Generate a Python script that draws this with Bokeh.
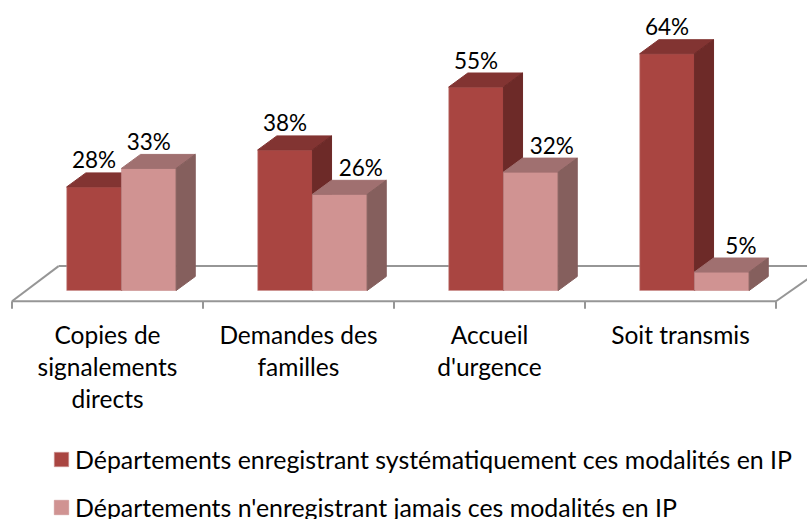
from bokeh.plotting import figure
from bokeh.models import Range1d, Legend, LegendItem
from bokeh.core.properties import value
from bokeh.embed import file_html
from bokeh.resources import INLINE

categories = [["Copies de", "signalements", "directs"], ["Demandes des", "familles"], ["Accueil", "d'urgence"], ["Soit transmis"]]
series_1 = [28, 38, 55, 64]
series_2 = [33, 26, 32, 5]
names = ["Départements enregistrant systématiquement ces modalités en IP",
         "Départements n'enregistrant jamais ces modalités en IP"]
label_shift_2 = [0, 0.11, 0.11, 0.10]

FONT = "Lato"
W, H = 807, 519
UX, UY = 191.0, 3.7
x0 = 11.5 / UX
p = figure(width=W, height=H, output_backend="svg", toolbar_location=None,
           x_range=Range1d(-x0, (W - 11.5) / UX), y_range=Range1d(-(H - 290) / UY, 290 / UY),
           min_border=0, outline_line_color=None, margin=0)
p.axis.visible = False
p.grid.visible = False
p.background_fill_color = "white"

BW, OFF, DX, DY = 0.2865, 0.2865, 0.1, 3.78
GRAY = "#969696"
fy, by = -2.9, 6.6
p.line([0.244, 4.18], [by, by], line_color=GRAY, line_width=2)
p.line([0.244, 0], [by, fy], line_color=GRAY, line_width=2)
p.line([0, 4.0], [fy, fy], line_color=GRAY, line_width=2)
p.line([4.0, 4.18], [fy, 3.6], line_color=GRAY, line_width=2)
for i in range(5):
    p.segment(i, fy, i, fy - 2.0, line_color=GRAY, line_width=2)

def bar(x, v, front, top, side):
    edge = "#C98F8D"
    r = p.quad(left=[x], right=[x + BW], bottom=[0], top=[v], fill_color=front, line_color=edge, line_width=1, line_alpha=0.6)
    p.patch([x, x + BW, x + BW + DX, x + DX], [v, v, v + DY, v + DY], fill_color=top, line_color=top, line_width=1)
    p.patch([x + BW, x + BW + DX, x + BW + DX, x + BW], [0, DY, v + DY, v], fill_color=side, line_color=side, line_width=1)
    return r

r1 = r2 = None
for i in range(4):
    x = i + 0.2865
    r1 = bar(x, series_1[i], "#A94541", "#823432", "#6D2A28")
    r2 = bar(x + OFF, series_2[i], "#D09392", "#A07070", "#855F5D")
    for xx, v, s in ((x + BW / 2, series_1[i], 0), (x + OFF + BW / 2, series_2[i], label_shift_2[i])):
        p.text([xx + s], [v + DY + 3.5], text=[f"{v}%"], text_font=value(FONT), text_font_size="22.5px",
               text_align="center", text_baseline="middle", text_color="#000000")
    for j, line in enumerate(categories[i]):
        p.text([i + 0.5], [-12.0 - (j * 32) / UY], text=[line],
               text_font=value(FONT), text_font_size="24.5px", text_align="center", text_baseline="middle", text_color="#000000")

legend = Legend(items=[LegendItem(label=names[0], renderers=[r1]), LegendItem(label=names[1], renderers=[r2])],
                location=(52, -3), background_fill_alpha=0, border_line_alpha=0,
                label_text_font=FONT, label_text_font_size="24.9px", label_text_color="#000000",
                glyph_width=18, glyph_height=18, spacing=18, padding=0, margin=0, label_standoff=5,
                label_height=15)
p.add_layout(legend, "center")

open("out.html", "w").write(file_html(p, INLINE))
